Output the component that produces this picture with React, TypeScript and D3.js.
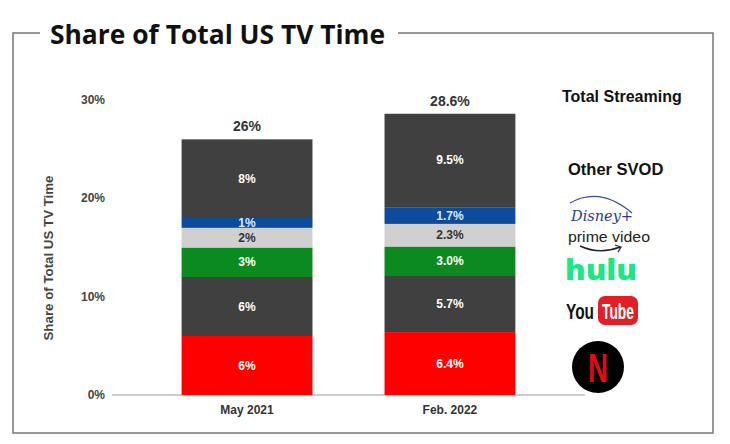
import React from 'react';
import * as d3 from 'd3';

const categories = ["May 2021", "Feb. 2022"];
const seriesNames = ["Netflix", "YouTube", "Hulu", "Prime Video", "Disney+", "Other SVOD"];
const netflix = [6, 6.4];
const youtube = [6, 5.7];
const hulu = [3, 3.0];
const prime = [2, 2.3];
const disney = [1, 1.7];
const otherSvod = [8, 9.5];
const labelsMay = ["6%", "6%", "3%", "2%", "1%", "8%"];
const labelsFeb = ["6.4%", "5.7%", "3.0%", "2.3%", "1.7%", "9.5%"];
const totalLabels = ["26%", "28.6%"];
const yTicks = [0, 10, 20, 30];

const colors = ["#fe0000", "#404040", "#0b8a1f", "#d0d0d0", "#0b4c9c", "#404040"];
const textColors = ["#ffffff", "#ffffff", "#ffffff", "#333333", "#d8ecff", "#ffffff"];

const W = 730;
const H = 444;
const margin = { left: 112, right: 145, top: 100, bottom: 49 };
const font = "'Liberation Sans', Arial, sans-serif";
const titleFont = "'Open Sans', sans-serif";
const narrow = "'Liberation Sans Narrow', 'Liberation Sans', sans-serif";

export default function App() {
  const values = [netflix, youtube, hulu, prime, disney, otherSvod];
  const labels = [labelsMay, labelsFeb];

  const x = d3.scaleBand<string>()
    .domain(categories)
    .range([margin.left, W - margin.right])
    .paddingInner(0.355)
    .paddingOuter(0.343);
  const y = d3.scaleLinear().domain([0, 30]).range([H - margin.bottom, margin.top]);

  const stackData = categories.map((c, i) => {
    const row: Record<string, number | string> = { cat: c };
    seriesNames.forEach((s, j) => { row[s] = values[j][i]; });
    return row;
  });
  const stacked = d3.stack<Record<string, number | string>>().keys(seriesNames)(stackData);

  const y0 = y(0);

  return (
    <svg width={W} height={H} style={{ position: 'absolute', left: 0, top: 0, background: '#fff' }}>
      <rect x={0} y={0} width={W} height={H} fill="#fff" />
      {/* frame */}
      <path d={`M 40 33 L 13 33 L 13 433 L 713 433 L 713 33 L 398 33`} fill="none" stroke="#777" strokeWidth={1.5} />
      <text x={50} y={44} fontFamily={titleFont} fontWeight={700} fontSize={27} fill="#111"
        textLength={335} lengthAdjust="spacingAndGlyphs">
        Share of Total US TV Time
      </text>

      {/* axis */}
      <line x1={margin.left} x2={585} y1={y0} y2={y0} stroke="#999" strokeWidth={1.2} />
      {yTicks.map(t => (
        <text key={t} x={105} y={y(t) + 4} textAnchor="end" fontFamily={font} fontWeight={700}
          fontSize={12} fill="#444">{t}%</text>
      ))}
      <text transform={`translate(53,${258}) rotate(-90)`} textAnchor="middle" fontFamily={font}
        fontWeight={700} fontSize={12} fill="#444" textLength={165} lengthAdjust="spacingAndGlyphs">
        Share of Total US TV Time
      </text>

      {stacked.map((layer, j) => (
        <g key={seriesNames[j]}>
          {layer.map((d, i) => {
            const bx = x(categories[i])!;
            const top = y(d[1]);
            const bottom = y(d[0]);
            return (
              <g key={i}>
                <rect x={bx} y={top} width={x.bandwidth()} height={bottom - top} fill={colors[j]} />
                <text x={bx + x.bandwidth() / 2} y={(top + bottom) / 2 + 4} textAnchor="middle"
                  fontFamily={font} fontWeight={700} fontSize={12} fill={textColors[j]}>
                  {labels[i][j]}
                </text>
              </g>
            );
          })}
        </g>
      ))}

      {categories.map((c, i) => {
        const cx = x(c)! + x.bandwidth() / 2;
        const total = stacked[stacked.length - 1][i][1];
        return (
          <g key={c}>
            <text x={cx} y={y(total) - 8} textAnchor="middle" fontFamily={font} fontWeight={700}
              fontSize={14} fill="#333">{totalLabels[i]}</text>
            <text x={cx} y={y0 + 19} textAnchor="middle" fontFamily={font} fontWeight={700}
              fontSize={12} fill="#333">{c}</text>
          </g>
        );
      })}

      {/* legend logos */}
      <text x={562} y={102} fontFamily={font} fontWeight={700} fontSize={16} fill="#111">
        Total Streaming
      </text>
      <text x={568} y={175} fontFamily={font} fontWeight={700} fontSize={16.5} fill="#111">
        Other SVOD
      </text>
      <path d="M 570 203 Q 600 186 632 213" fill="none" stroke="#3a4aa0" strokeWidth={1.2} />
      <text x={571} y={221} fontFamily="'DejaVu Serif', serif" fontStyle="italic" fontSize={15} fill="#2a3a98"
        textLength={62} lengthAdjust="spacingAndGlyphs">Disney+</text>
      <text x={568} y={242} fontFamily={font} fontSize={15.5} fill="#222" textLength={82}
        lengthAdjust="spacingAndGlyphs">prime video</text>
      <path d="M 580 246 Q 600 255 620 247" fill="none" stroke="#222" strokeWidth={1.6} />
      <path d="M 615 245 L 621 247 L 618 252" fill="none" stroke="#222" strokeWidth={1.3} />
      <text x={565} y={280} fontFamily="'Open Sans', sans-serif" fontWeight={800} fontSize={28} fill="#1ce783"
        textLength={72} lengthAdjust="spacingAndGlyphs">hulu</text>
      <text x={566} y={319} fontFamily={narrow} fontWeight={700} fontSize={22} fill="#111"
        textLength={28} lengthAdjust="spacingAndGlyphs">You</text>
      <rect x={598} y={296} width={40} height={29} rx={7} fill="#e31e24" />
      <text x={618} y={319} textAnchor="middle" fontFamily={narrow} fontWeight={700} fontSize={22} fill="#fff"
        textLength={32} lengthAdjust="spacingAndGlyphs">Tube</text>
      <circle cx={598} cy={367} r={26} fill="#000" />
      <text x={598} y={382} textAnchor="middle" fontFamily={narrow} fontWeight={700} fontSize={40} fill="#e50914"
        textLength={20} lengthAdjust="spacingAndGlyphs">N</text>
    </svg>
  );
}
